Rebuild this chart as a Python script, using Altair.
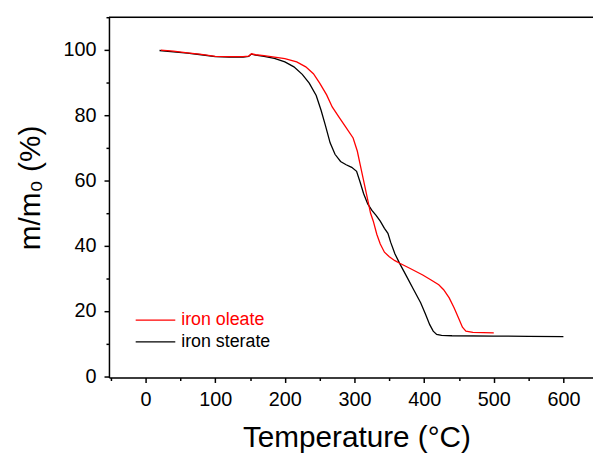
import altair as alt
import pandas as pd

# ---- data ----
sterate_T = [20, 40, 60, 80, 100, 120, 140, 148, 152, 158,
             170, 185, 200, 213, 225, 235, 245, 252, 258, 265,
             272, 280, 288, 296, 303, 308, 313, 319, 325, 331,
             337, 343, 348, 352, 358, 365, 375, 385, 395, 402,
             408, 413, 418, 425, 440, 500, 550, 600]
sterate_m = [99.8, 99.4, 99.0, 98.5, 97.9, 97.8, 97.8, 98.0, 98.7, 98.4,
             98.0, 97.4, 96.3, 94.8, 92.5, 89.8, 86.0, 81.5, 77.0, 71.5,
             68.0, 65.8, 64.8, 64.0, 62.8, 59.5, 56.0, 52.8, 50.8, 49.3,
             47.5, 45.3, 43.8, 41.0, 37.5, 34.5, 30.5, 26.5, 22.5, 19.0,
             15.8, 13.8, 12.8, 12.5, 12.4, 12.3, 12.2, 12.1]

oleate_T = [22, 40, 60, 80, 100, 120, 140, 148, 152, 158,
            170, 185, 200, 217, 230, 241, 250, 260, 268, 277,
            287, 298, 304, 308, 313, 318, 323, 327, 332, 337,
            343, 350, 358, 365, 380, 398, 410, 421, 428, 436,
            443, 450, 455, 460, 470, 500]
oleate_m = [99.9, 99.6, 99.1, 98.6, 98.0, 97.9, 97.9, 98.1, 98.8, 98.5,
            98.2, 97.8, 97.3, 96.3, 94.8, 92.7, 89.8, 86.2, 82.5, 79.6,
            76.5, 73.0, 69.0, 65.0, 60.0, 55.0, 50.0, 47.5, 43.5, 40.5,
            38.0, 36.6, 35.4, 34.6, 33.0, 31.0, 29.5, 28.0, 26.5, 24.0,
            21.0, 17.5, 15.0, 13.8, 13.4, 13.3]

series_names = ["iron oleate", "iron sterate"]
series_colors = ["#ff0000", "#000000"]

x_tick_values = list(range(-50, 601, 50))
y_tick_values = list(range(0, 111, 10))

df_s = pd.DataFrame({"T": sterate_T, "m": sterate_m, "series": series_names[1]})
df_o = pd.DataFrame({"T": oleate_T, "m": oleate_m, "series": series_names[0]})

W, H = 489, 364
FONT = "Liberation Sans"

x_scale = alt.Scale(domain=[-52.6, 642.5], nice=False, zero=False)
y_scale = alt.Scale(domain=[-0.4, 110], nice=False, zero=False)
color_scale = alt.Scale(domain=series_names, range=series_colors)

x_axis = alt.Axis(
    values=x_tick_values,
    labelExpr="datum.value % 100 === 0 ? datum.label : ''",
    tickSize={"condition": {"test": "datum.value % 100 === 0", "value": 5}, "value": 3},
    title="Temperature (°C)",
    titleFontSize=30, titleFont=FONT, titleFontWeight="normal",
    titleX=250, titleY=70, titleAnchor="middle", titleAlign="center",
    titleBaseline="alphabetic",
    labelFontSize=20, labelFont=FONT, labelPadding=7, labelColor="black",
    labelFlush=False, labelOverlap=False,
    grid=False, domainColor="black", domainWidth=1.5,
    tickColor="black", tickWidth=1.5,
)
y_axis = alt.Axis(
    values=y_tick_values,
    labelExpr="datum.value % 20 === 0 ? datum.label : ''",
    tickSize={"condition": {"test": "datum.value % 20 === 0", "value": 5}, "value": 3},
    title="m/m₀ (%)",
    titleFontSize=30, titleFont=FONT, titleFontWeight="normal",
    titleX=-79, titleY=172, titleAngle=270, titleAlign="center",
    titleBaseline="middle",
    labelFontSize=20, labelFont=FONT, labelPadding=8, labelColor="black",
    labelFlush=False, labelOverlap=False,
    grid=False, domainColor="black", domainWidth=1.5,
    tickColor="black", tickWidth=1.5,
)

def line_layer(df):
    return alt.Chart(df).mark_line(strokeWidth=1.3).encode(
        x=alt.X("T:Q", scale=x_scale, axis=x_axis),
        y=alt.Y("m:Q", scale=y_scale, axis=y_axis),
        color=alt.Color("series:N", scale=color_scale, legend=None),
        order="T:Q",
    )

black = line_layer(df_s)
red = line_layer(df_o)

frame_top = alt.Chart().mark_rule(color="black", strokeWidth=1.5).encode(
    x=alt.value(0), x2=alt.value(W), y=alt.value(0)
)

leg_red_line = alt.Chart().mark_rule(color=series_colors[0], strokeWidth=1.2).encode(
    x=alt.value(27), x2=alt.value(67), y=alt.value(306)
)
leg_black_line = alt.Chart().mark_rule(color=series_colors[1], strokeWidth=1.2).encode(
    x=alt.value(27), x2=alt.value(67), y=alt.value(328)
)
leg_red_text = alt.Chart().mark_text(
    text=series_names[0], color=series_colors[0], fontSize=18, font=FONT,
    align="left", baseline="middle"
).encode(x=alt.value(73), y=alt.value(306))
leg_black_text = alt.Chart().mark_text(
    text=series_names[1], color=series_colors[1], fontSize=18, font=FONT,
    align="left", baseline="middle"
).encode(x=alt.value(73), y=alt.value(328))

chart = alt.layer(
    black, red, frame_top, leg_red_line, leg_black_line, leg_red_text, leg_black_text
).properties(
    width=W, height=H,
    autosize=alt.AutoSizeParams(type="none"),
    padding={"left": 102, "top": 7, "right": 0, "bottom": 79},
).configure_view(strokeWidth=0).configure(background="white")

chart.save("out.html", embed_options={"renderer": "svg", "actions": False})
